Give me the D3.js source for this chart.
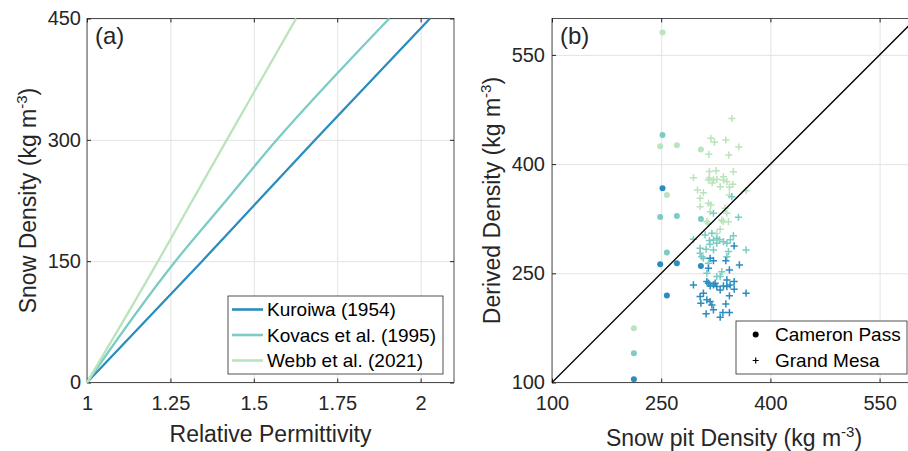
<!DOCTYPE html>
<html>
<head>
<meta charset="utf-8">
<script src="https://cdn.jsdelivr.net/npm/d3@7"></script>
<style>
  body { margin: 0; background: #fff; }
  svg { display: block; font-family: "Liberation Sans", Arial, Helvetica, sans-serif; }
  .axis text { font-size: 20px; fill: #262626; }
  .axis line { stroke: #262626; }
  .grid line { stroke: #e3e3e3; }
  .label { font-size: 23px; fill: #262626; }
  .panel-tag { font-size: 24px; fill: #262626; }
  .legend text { font-size: 19px; fill: #000; }
</style>
</head>
<body>
<script>
// ---- Panel (a) data: relative permittivity read at given snow densities
var densityA = [0, 150, 220, 300, 450];
var kuroiwaEps = [1, 1.345, 1.503, 1.684, 2.028];
var kovacsEps = [1, 1.265, 1.407, 1.569, 1.906];
var webbEps = [1, 1.213, 1.309, 1.419, 1.627];

var modelNames = ["Kuroiwa (1954)", "Kovacs et al. (1995)", "Webb et al. (2021)"];
var modelColors = ["#2b8cbe", "#7bccc4", "#bae4bc"];

var xTicksA = [1, 1.25, 1.5, 1.75, 2];
var yTicksA = [0, 150, 300, 450];

// ---- Panel (b) data: Cameron Pass (dots), snow pit density vs derived density
var cpPit = [212.5, 248.6, 251.8, 257.8, 271.5, 304.5];
var cpKuroiwa = [104.6, 262.5, 366.8, 219.4, 263.8, 260.1];
var cpKovacs = [140.3, 327.4, 439.9, 278.4, 328.8, 324.6];
var cpWebb = [174.6, 424.4, 580.9, 357.6, 426, 420];

// Grand Mesa (crosses), [pit density, derived density]
var gmWebb = [
  [347.0, 462.8], [318.2, 435.4], [323.1, 429.9], [338.8, 433.1], [356.6, 423.5],
  [315.4, 413.4], [342.9, 412.5], [294.3, 381.3], [316.3, 390.0], [325.5, 390.9],
  [335.5, 382.7], [349.2, 389.6], [314.9, 378.2], [321.8, 378.2], [326.4, 379.1],
  [335.5, 378.2], [340.2, 375.8], [348.4, 372.3], [343.7, 368.1], [331.0, 369.0],
  [320.0, 374.1], [316.0, 381.0], [299.8, 364.4], [308.0, 360.7], [303.5, 353.0],
  [314.9, 346.2], [318.2, 343.9], [343.7, 357.6], [366.6, 363.5], [303.5, 341.5],
  [317.2, 334.7], [337.8, 339.3], [340.2, 332.5], [312.7, 320.9], [335.5, 320.9],
  [342.4, 320.9], [331.0, 310.5], [333.3, 323.0], [314.9, 318.5], [326.4, 304.7]
];
var gmKovacs = [
  [294.3, 296.8], [310.4, 302.7], [316.3, 294.9], [321.8, 295.8], [326.4, 291.3],
  [335.5, 293.5], [340.2, 291.3], [349.2, 301.7], [356.1, 327.0], [347.0, 355.2],
  [366.6, 282.1], [303.5, 277.6], [311.7, 283.1], [308.0, 270.7], [314.9, 263.9],
  [312.7, 250.1], [331.0, 245.5], [340.2, 272.9], [321.8, 282.1], [326.4, 298.1],
  [319.6, 305.0], [303.5, 284.4], [321.8, 332.5], [342.4, 279.8], [305.8, 272.9],
  [333.3, 252.3], [326.4, 245.5], [330.0, 296.0], [317.0, 290.0], [345.0, 296.0]
];
var gmKuroiwa = [
  [350.2, 287.6], [317.2, 270.7], [321.8, 267.4], [338.8, 267.4], [314.9, 257.0],
  [343.7, 254.7], [357.4, 261.5], [294.3, 234.1], [312.7, 238.6], [317.2, 232.7],
  [321.8, 234.1], [326.4, 231.7], [331.0, 227.2], [335.5, 232.7], [340.2, 231.7],
  [344.7, 234.1], [350.2, 238.6], [350.2, 228.2], [366.6, 222.7], [303.5, 218.0],
  [308.0, 222.7], [312.7, 213.5], [317.2, 211.2], [319.6, 206.6], [304.5, 209.0],
  [338.8, 208.0], [343.7, 219.0], [311.7, 194.3], [331.0, 189.8], [334.7, 196.1],
  [343.7, 196.1], [314.9, 236.4], [324.1, 236.4], [321.8, 199.8], [340.2, 240.9]
];

var ticksB = [100, 250, 400, 550];
var siteNames = ["Cameron Pass", "Grand Mesa"];

// SVG area
var svgWidth = 908;
var svgHeight = 451;

var svg = d3.select("body")
  .append("svg")
  .attr("width", svgWidth)
  .attr("height", svgHeight);

// plot boxes (pixels)
var boxA = { left: 87, right: 454, top: 18.5, bottom: 382.5 };
var boxB = { left: 552, right: 916, top: 18.5, bottom: 382.5 };

var xA = d3.scaleLinear().domain([1, 2.1]).range([boxA.left, boxA.right]);
var yA = d3.scaleLinear().domain([0, 450]).range([boxA.bottom, boxA.top]);
var xB = d3.scaleLinear().domain([100, 600]).range([boxB.left, boxB.right]);
var yB = d3.scaleLinear().domain([100, 600]).range([boxB.bottom, boxB.top]);

// grid + box + inward ticks on all four sides, like MATLAB
function drawFrame(box, x, y, xTicks, yTicks, yPad) {
  var w = box.right - box.left;
  var h = box.bottom - box.top;

  svg.append("g")
    .attr("class", "grid")
    .attr("transform", "translate(0," + box.bottom + ")")
    .call(d3.axisBottom(x).tickValues(xTicks).tickSize(-h).tickFormat(""))
    .call(g => g.select(".domain").remove());

  svg.append("g")
    .attr("class", "grid")
    .attr("transform", "translate(" + box.left + ",0)")
    .call(d3.axisLeft(y).tickValues(yTicks).tickSize(-w).tickFormat(""))
    .call(g => g.select(".domain").remove());

  svg.append("rect")
    .attr("x", box.left)
    .attr("y", box.top)
    .attr("width", w)
    .attr("height", h)
    .attr("fill", "none")
    .attr("stroke", "#262626")
    .attr("stroke-width", 0.8);

  svg.append("g")
    .attr("class", "axis")
    .attr("transform", "translate(0," + box.bottom + ")")
    .call(d3.axisBottom(x).tickValues(xTicks).tickSize(-4).tickPadding(13.5).tickFormat(d => String(d)))
    .call(g => g.select(".domain").remove());

  svg.append("g")
    .attr("class", "axis")
    .attr("transform", "translate(0," + box.top + ")")
    .call(d3.axisTop(x).tickValues(xTicks).tickSize(-4).tickFormat(""))
    .call(g => g.select(".domain").remove());

  svg.append("g")
    .attr("class", "axis")
    .attr("transform", "translate(" + box.left + ",0)")
    .call(d3.axisLeft(y).tickValues(yTicks).tickSize(-4).tickPadding(yPad).tickFormat(d => String(d)))
    .call(g => g.select(".domain").remove());

  svg.append("g")
    .attr("class", "axis")
    .attr("transform", "translate(" + box.right + ",0)")
    .call(d3.axisRight(y).tickValues(yTicks).tickSize(-4).tickFormat(""))
    .call(g => g.select(".domain").remove());
}

// text with "kg m^-3" superscript
function unitLabel(sel, before) {
  sel.append("tspan").text(before + "(kg m");
  sel.append("tspan").attr("font-size", "15px").attr("dy", -9).text("-3");
  sel.append("tspan").attr("dy", 9).text(")");
}

// ---------------- Panel (a) ----------------
drawFrame(boxA, xA, yA, xTicksA, yTicksA, 6);

var curves = [kuroiwaEps, kovacsEps, webbEps];
var drawLine = d3.line()
  .x(d => xA(d[0]))
  .y(d => yA(d[1]))
  .curve(d3.curveMonotoneY);

curves.forEach(function(eps, i) {
  var pts = eps.map((e, j) => [e, densityA[j]]);
  svg.append("path")
    .attr("d", drawLine(pts))
    .attr("fill", "none")
    .attr("stroke", modelColors[i])
    .attr("stroke-width", 2.3);
});

svg.append("text")
  .attr("class", "panel-tag")
  .attr("x", 95)
  .attr("y", 44)
  .text("(a)");

svg.append("text")
  .attr("class", "label")
  .attr("x", (boxA.left + boxA.right) / 2)
  .attr("y", 442)
  .attr("text-anchor", "middle")
  .text("Relative Permittivity");

svg.append("text")
  .attr("class", "label")
  .attr("transform", "translate(36," + (boxA.top + boxA.bottom) / 2 + ") rotate(-90)")
  .attr("text-anchor", "middle")
  .call(unitLabel, "Snow Density ");

// legend (a)
var legA = svg.append("g").attr("class", "legend");
legA.append("rect")
  .attr("x", 228).attr("y", 296).attr("width", 215).attr("height", 78)
  .attr("fill", "#fff").attr("stroke", "#262626").attr("stroke-width", 0.8);
modelNames.forEach(function(name, i) {
  var ly = 309.5 + i * 25.5;
  legA.append("line")
    .attr("x1", 232).attr("x2", 263).attr("y1", ly).attr("y2", ly)
    .attr("stroke", modelColors[i]).attr("stroke-width", 2.6);
  legA.append("text")
    .attr("x", 267).attr("y", ly).attr("dy", "0.35em")
    .text(name);
});

// ---------------- Panel (b) ----------------
drawFrame(boxB, xB, yB, ticksB, ticksB, 7);

var plotB = svg.append("g");
var cpSeries = [cpKuroiwa, cpKovacs, cpWebb];
var gmSeries = [gmKuroiwa, gmKovacs, gmWebb];
var crossPath = "M-3.6,0H3.6M0,-3.6V3.6";

// draw light-green first so the blue ends up on top
[2, 1, 0].forEach(function(i) {
  plotB.selectAll(".cp" + i)
    .data(cpSeries[i].map((v, j) => [cpPit[j], v]))
    .enter()
    .append("circle")
    .attr("cx", d => xB(d[0]))
    .attr("cy", d => yB(d[1]))
    .attr("r", 3)
    .attr("fill", modelColors[i]);

  plotB.selectAll(".gm" + i)
    .data(gmSeries[i])
    .enter()
    .append("path")
    .attr("d", crossPath)
    .attr("transform", d => "translate(" + xB(d[0]) + "," + yB(d[1]) + ")")
    .attr("stroke", modelColors[i])
    .attr("stroke-width", 1.5)
    .attr("fill", "none");
});

// 1:1 line
svg.append("line")
  .attr("x1", xB(100)).attr("y1", yB(100))
  .attr("x2", xB(600)).attr("y2", yB(600))
  .attr("stroke", "#000")
  .attr("stroke-width", 1.3);

svg.append("text")
  .attr("class", "panel-tag")
  .attr("x", 560)
  .attr("y", 44)
  .text("(b)");

// sits at the very bottom edge, as in the original figure
svg.append("text")
  .attr("class", "label")
  .attr("x", (boxB.left + boxB.right) / 2)
  .attr("y", 446)
  .attr("text-anchor", "middle")
  .call(unitLabel, "Snow pit Density ");

svg.append("text")
  .attr("class", "label")
  .attr("transform", "translate(500," + (boxB.top + boxB.bottom) / 2 + ") rotate(-90)")
  .attr("text-anchor", "middle")
  .call(unitLabel, "Derived Density ");

// legend (b)
var legB = svg.append("g").attr("class", "legend");
legB.append("rect")
  .attr("x", 736).attr("y", 321).attr("width", 171).attr("height", 53)
  .attr("fill", "#fff").attr("stroke", "#262626").attr("stroke-width", 0.8);
legB.append("circle")
  .attr("cx", 755.7).attr("cy", 334.5).attr("r", 3).attr("fill", "#000");
legB.append("path")
  .attr("d", "M-3,0H3M0,-3V3")
  .attr("transform", "translate(755.7,360.5)")
  .attr("stroke", "#000").attr("stroke-width", 1.2);
siteNames.forEach(function(name, i) {
  legB.append("text")
    .attr("x", 775).attr("y", 334.5 + i * 26).attr("dy", "0.35em")
    .text(name);
});
</script>
</body>
</html>
